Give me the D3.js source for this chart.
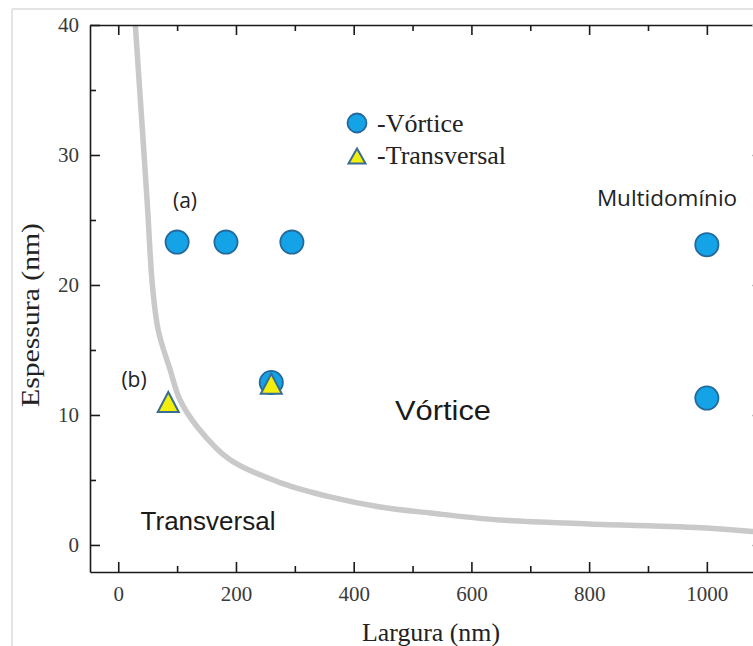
<!DOCTYPE html>
<html>
<head>
<meta charset="utf-8">
<script src="https://cdn.jsdelivr.net/npm/d3@7"></script>
<style>
  html, body { margin: 0; padding: 0; background: #fff; }
  svg { display: block; }
</style>
</head>
<body>
<svg id="chart" width="753" height="646"></svg>
<script>
// Phase diagram: thickness vs. width, vortex / transverse domain walls
const boundaryW = [29, 49, 58, 68, 88, 105, 134, 190, 275, 360, 445, 530, 648, 800, 1000, 1092];
const boundaryT = [40, 26.5, 20, 16.5, 13.5, 11.15, 9.1, 6.55, 4.8, 3.7, 2.92, 2.46, 1.92, 1.62, 1.31, 0.97];

const vortexW = [100, 183, 295, 1000, 1000, 260];
const vortexT = [23.3, 23.3, 23.3, 23.1, 11.3, 12.5];

const transW = [85, 260];
const transT = [11.0, 12.4];

const xMajor = [0, 200, 400, 600, 800, 1000];
const xMinor = [100, 300, 500, 700, 900];
const yMajor = [0, 10, 20, 30, 40];
const yMinor = [5, 15, 25, 35];

const svg = d3.select("#chart");

const x = d3.scaleLinear().domain([-48, 1092]).range([90, 761]);
const y = d3.scaleLinear().domain([-2.08, 40]).range([572, 25]);

const serif = "'Liberation Serif', 'Times New Roman', serif";
const sans = "'Liberation Sans', Arial, sans-serif";
const calib = "'Open Sans', 'Noto Sans', sans-serif";

// outer light frame
svg.append("line").attr("x1", 12).attr("x2", 753).attr("y1", 9).attr("y2", 9)
  .attr("stroke", "#e4e4e4").attr("stroke-width", 2);
svg.append("line").attr("x1", 12).attr("x2", 12).attr("y1", 9).attr("y2", 646)
  .attr("stroke", "#e4e4e4").attr("stroke-width", 2);

// boundary curve
const pts = boundaryW.map((w, i) => [w, boundaryT[i]]);
svg.append("path")
  .datum(pts)
  .attr("fill", "none")
  .attr("stroke", "#c9c9c9")
  .attr("stroke-width", 5.5)
  .attr("stroke-linecap", "butt")
  .attr("d", d3.line().x(d => x(d[0])).y(d => y(d[1])).curve(d3.curveCatmullRom.alpha(0.5)));

// axes (ticks inward)
function styleAxis(g) {
  g.select(".domain").attr("stroke", "#1a1a1a").attr("stroke-width", 1.6);
  g.selectAll(".tick line").attr("stroke", "#1a1a1a").attr("stroke-width", 1.6);
  g.selectAll(".tick text").attr("font-family", serif).attr("font-size", 21).attr("fill", "#3a3a3a");
}

const axBottom = svg.append("g").attr("transform", `translate(0,${y.range()[0]})`)
  .call(d3.axisBottom(x).tickValues(xMajor).tickSizeInner(-10).tickSizeOuter(0).tickPadding(14).tickFormat(d3.format("d")));
styleAxis(axBottom);
const axBottomMinor = svg.append("g").attr("transform", `translate(0,${y.range()[0]})`)
  .call(d3.axisBottom(x).tickValues(xMinor).tickSize(-6).tickFormat(""));
styleAxis(axBottomMinor);
axBottomMinor.select(".domain").remove();

const axTop = svg.append("g").attr("transform", `translate(0,${y.range()[1]})`)
  .call(d3.axisTop(x).tickValues(xMajor).tickSizeInner(-10).tickSizeOuter(0).tickFormat(""));
styleAxis(axTop);
const axTopMinor = svg.append("g").attr("transform", `translate(0,${y.range()[1]})`)
  .call(d3.axisTop(x).tickValues(xMinor).tickSize(-6).tickFormat(""));
styleAxis(axTopMinor);
axTopMinor.select(".domain").remove();

const axLeft = svg.append("g").attr("transform", `translate(${x.range()[0]},0)`)
  .call(d3.axisLeft(y).tickValues(yMajor).tickSizeInner(-10).tickSizeOuter(0).tickPadding(11).tickFormat(d3.format("d")));
styleAxis(axLeft);
const axLeftMinor = svg.append("g").attr("transform", `translate(${x.range()[0]},0)`)
  .call(d3.axisLeft(y).tickValues(yMinor).tickSize(-6).tickFormat(""));
styleAxis(axLeftMinor);
axLeftMinor.select(".domain").remove();

const axRight = svg.append("g").attr("transform", `translate(${x.range()[1] + 1},0)`)
  .call(d3.axisRight(y).tickValues(yMajor).tickSizeInner(-10).tickSizeOuter(0).tickFormat(""));
styleAxis(axRight);
axRight.selectAll(".tick line").attr("stroke", "#bbb");

// axis titles
svg.append("text").attr("x", 431).attr("y", 641).attr("text-anchor", "middle")
  .attr("font-family", serif).attr("font-size", 25).attr("fill", "#222")
  .attr("textLength", 138).attr("lengthAdjust", "spacingAndGlyphs")
  .text("Largura (nm)");
svg.append("text").attr("transform", "translate(39,315) rotate(-90)").attr("text-anchor", "middle")
  .attr("font-family", serif).attr("font-size", 26).attr("fill", "#222")
  .attr("textLength", 184).attr("lengthAdjust", "spacingAndGlyphs")
  .text("Espessura (nm)");

// markers
const circleFill = "#14a3e6", circleStroke = "#25699c";
const triFill = "#f2ef0c", triStroke = "#3a6d94";
function triPath(w, h) {
  return `M0,${-h / 2}L${w / 2},${h / 2}L${-w / 2},${h / 2}Z`;
}

svg.append("g").selectAll("circle")
  .data(vortexW.map((w, i) => [w, vortexT[i]]))
  .join("circle")
  .attr("cx", d => x(d[0])).attr("cy", d => y(d[1])).attr("r", 11.6)
  .attr("fill", circleFill).attr("stroke", circleStroke).attr("stroke-width", 1.8);

svg.append("g").selectAll("path")
  .data(transW.map((w, i) => [w, transT[i]]))
  .join("path")
  .attr("transform", d => `translate(${x(d[0])},${y(d[1])})`)
  .attr("d", triPath(21, 20))
  .attr("fill", triFill).attr("stroke", triStroke).attr("stroke-width", 2).attr("stroke-linejoin", "miter");

// legend
svg.append("circle").attr("cx", 357).attr("cy", 123).attr("r", 9.5)
  .attr("fill", circleFill).attr("stroke", circleStroke).attr("stroke-width", 1.8);
svg.append("path").attr("transform", "translate(357,156)").attr("d", triPath(17, 15))
  .attr("fill", triFill).attr("stroke", triStroke).attr("stroke-width", 2);
svg.append("text").attr("x", 377).attr("y", 132).attr("font-family", serif).attr("font-size", 26).attr("fill", "#222").text("-Vórtice");
svg.append("text").attr("x", 377).attr("y", 164).attr("font-family", serif).attr("font-size", 26).attr("fill", "#222").text("-Transversal");

// region labels
svg.append("text").attr("x", 185).attr("y", 208).attr("text-anchor", "middle")
  .attr("font-family", calib).attr("font-size", 21).attr("fill", "#222").text("(a)");
svg.append("text").attr("x", 134).attr("y", 387).attr("text-anchor", "middle")
  .attr("font-family", calib).attr("font-size", 21).attr("fill", "#222").text("(b)");
svg.append("text").attr("x", 667).attr("y", 206).attr("text-anchor", "middle")
  .attr("font-family", calib).attr("font-size", 22.5).attr("fill", "#222").text("Multidomínio");
svg.append("text").attr("x", 395).attr("y", 420).attr("text-anchor", "start")
  .attr("font-family", sans).attr("font-size", 27).attr("fill", "#1a1a1a")
  .attr("textLength", 96).attr("lengthAdjust", "spacingAndGlyphs").text("Vórtice");
svg.append("text").attr("x", 208).attr("y", 530).attr("text-anchor", "middle")
  .attr("font-family", sans).attr("font-size", 26).attr("fill", "#1a1a1a").text("Transversal");
</script>
</body>
</html>
